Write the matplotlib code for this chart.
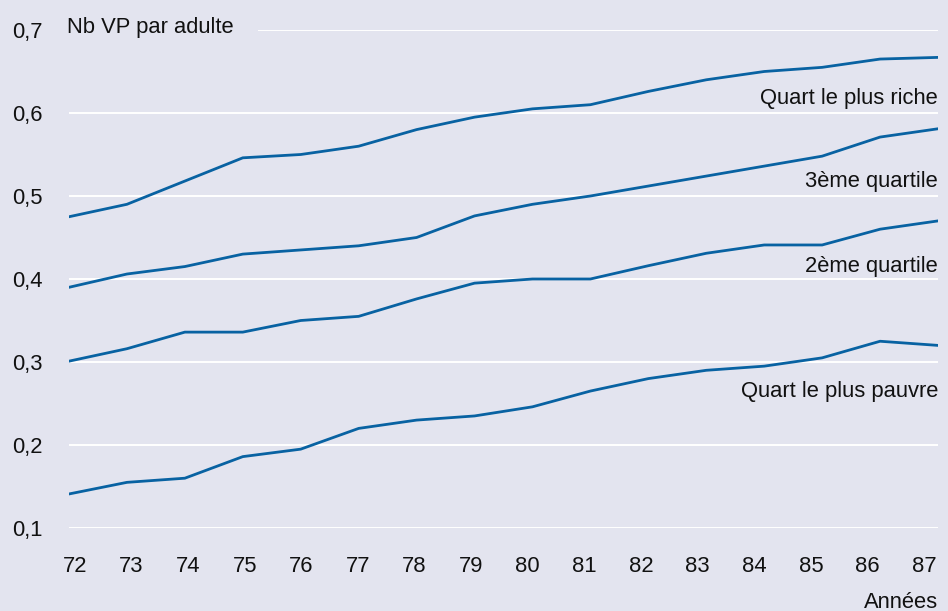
import matplotlib
matplotlib.use("Agg")
import matplotlib.pyplot as plt

plt.rcParams['font.family'] = ['Liberation Sans', 'DejaVu Sans']

years = [72, 73, 74, 75, 76, 77, 78, 79, 80, 81, 82, 83, 84, 85, 86, 87]
riche = [0.475, 0.490, 0.518, 0.546, 0.550, 0.560, 0.580, 0.595, 0.605, 0.610, 0.626, 0.640, 0.650, 0.655, 0.665, 0.667]
q3 = [0.390, 0.406, 0.415, 0.430, 0.435, 0.440, 0.450, 0.476, 0.490, 0.500, 0.512, 0.524, 0.536, 0.548, 0.571, 0.581]
q2 = [0.301, 0.316, 0.336, 0.336, 0.350, 0.355, 0.376, 0.395, 0.400, 0.400, 0.416, 0.431, 0.441, 0.441, 0.460, 0.470]
pauvre = [0.141, 0.155, 0.160, 0.186, 0.195, 0.220, 0.230, 0.235, 0.246, 0.265, 0.280, 0.290, 0.295, 0.305, 0.325, 0.320]
series_names = ["Quart le plus riche", "3ème quartile", "2ème quartile", "Quart le plus pauvre"]
label_y = [0.618, 0.518, 0.415, 0.265]
yticks = [0.1, 0.2, 0.3, 0.4, 0.5, 0.6, 0.7]
ytick_labels = ["0,1", "0,2", "0,3", "0,4", "0,5", "0,6", "0,7"]

bg = '#e3e4ef'
line_color = '#0862a2'
fs = 15.8

fig = plt.figure(figsize=(9.48, 6.11), dpi=100, facecolor=bg)
ax = fig.add_axes([69/948, 83/611, (938-69)/948, (528-30)/611])
ax.set_facecolor(bg)
for s in ax.spines.values():
    s.set_visible(False)

for vals in [riche, q3, q2, pauvre]:
    ax.plot(years, vals, color=line_color, lw=2.0, solid_joinstyle='round', zorder=3)

ax.set_xlim(years[0], years[-1])
ax.set_ylim(0.1, 0.7)
ax.set_yticks(yticks)
ax.set_yticklabels(ytick_labels)
# tick labels in the reference sit slightly inward of the data ends
tick_pos = [years[0] + 0.1 + (y - years[0]) * (14.66 / 15) for y in years]
ax.set_xticks(tick_pos)
ax.set_xticklabels([str(y) for y in years])
ax.grid(axis='y', color='white', lw=1.4, zorder=1)
ax.grid(axis='x', visible=False)
ax.tick_params(axis='both', length=0, labelsize=fs, colors='#111111')
ax.tick_params(axis='y', pad=41)
for t in ax.get_yticklabels():
    t.set_horizontalalignment('left')
ax.tick_params(axis='x', pad=20)

for name, yv in zip(series_names, label_y):
    ax.text(87, yv, name, ha='right', va='center', fontsize=fs, color='#111111', zorder=4)

ax.text(-0.002, 1.0 + 2/498, "Nb VP par adulte", transform=ax.transAxes, ha='left', va='center',
        fontsize=fs, color='#111111', zorder=5,
        bbox=dict(facecolor=bg, edgecolor='none', pad=17))
fig.text(938/948, 1 - 602/611, "Années", ha='right', va='center', fontsize=fs, color='#111111')

fig.savefig("out.png", dpi=100, facecolor=bg)
